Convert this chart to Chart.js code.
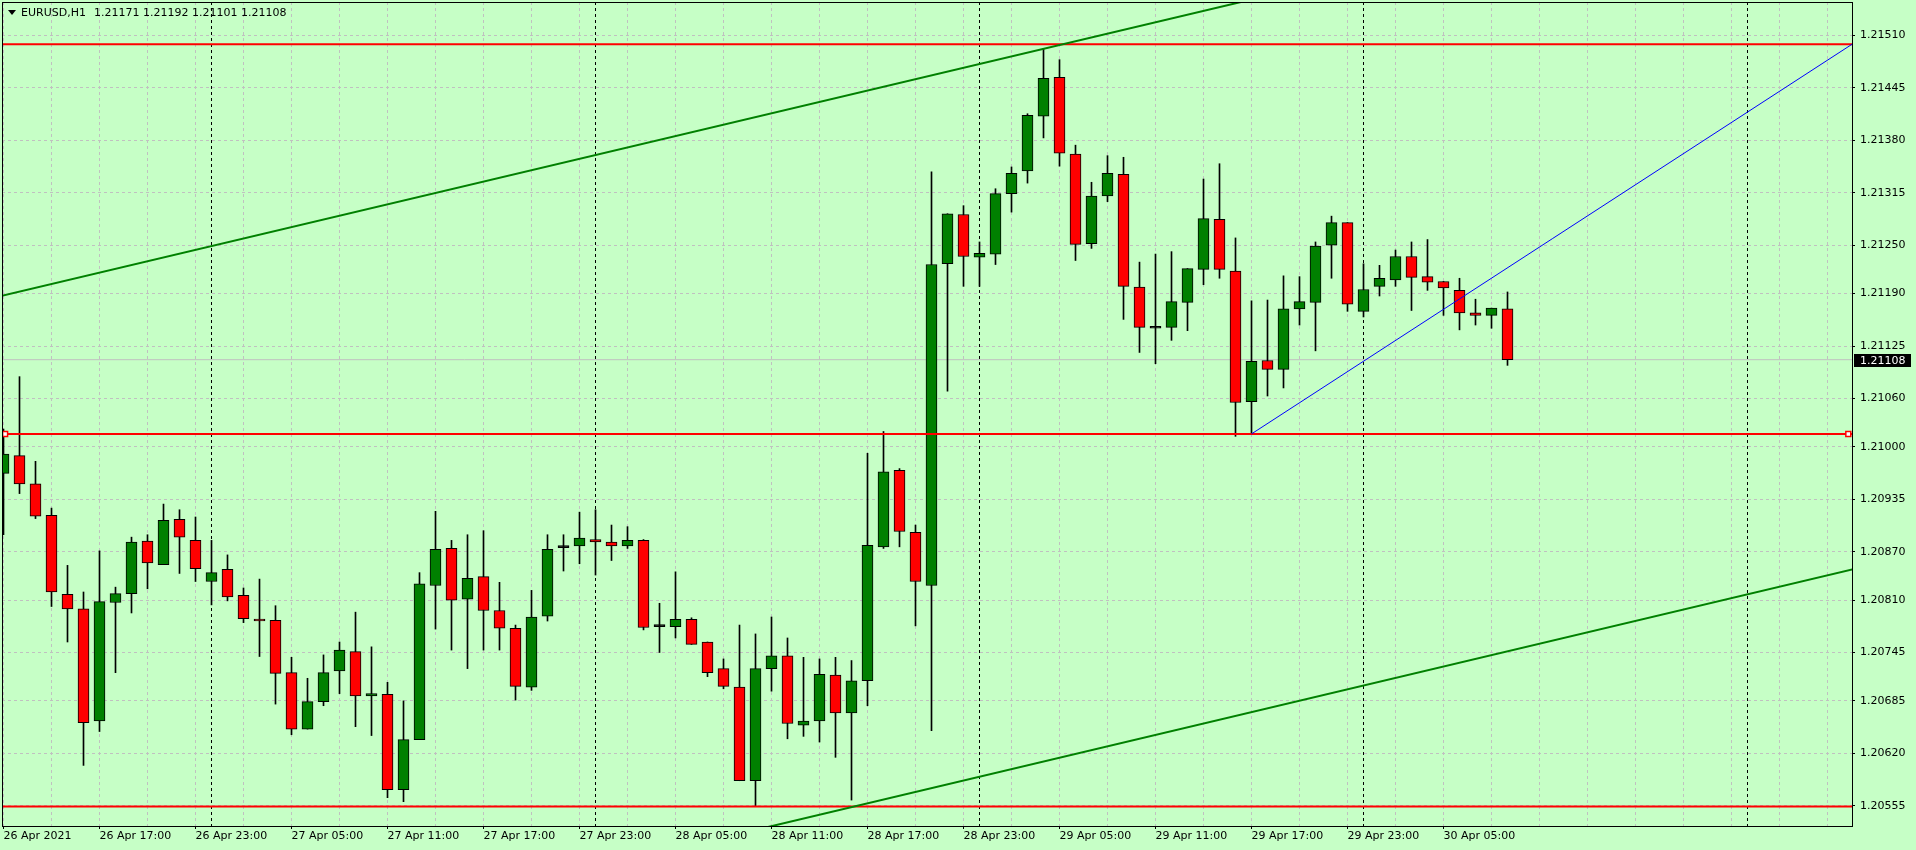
<!DOCTYPE html>
<html>
<head>
<meta charset="utf-8">
<script src="https://cdn.jsdelivr.net/npm/chart.js@4.4.1/dist/chart.umd.min.js"></script>
<style>
    html, body { margin: 0; padding: 0; background: #c6ffc6; }
    #wrap { width: 1916px; height: 850px; position: relative; }
</style>
</head>
<body>
<div id="wrap"><canvas id="grafico"></canvas></div>
<script>
// EURUSD H1, de 26 Apr 11:00 ate 30 Apr 09:00 (um candle por hora)
const simbolo = "EURUSD,H1";

const aberturas = [
    1.20967, 1.20989, 1.20954, 1.20915, 1.20817, 1.20799, 1.20660, 1.20807, 1.20818, 1.20883,
    1.20854, 1.20910, 1.20884, 1.20833, 1.20848, 1.20816, 1.20785, 1.20785, 1.20720, 1.20650,
    1.20684, 1.20722, 1.20746, 1.20691, 1.20693, 1.20575, 1.20637, 1.20828, 1.20874, 1.20811,
    1.20839, 1.20797, 1.20775, 1.20702, 1.20790, 1.20875, 1.20877, 1.20885, 1.20882, 1.20877,
    1.20884, 1.20777, 1.20777, 1.20786, 1.20758, 1.20725, 1.20702, 1.20586, 1.20725, 1.20741,
    1.20655, 1.20660, 1.20717, 1.20670, 1.20710, 1.20876, 1.20971, 1.20894, 1.20828, 1.21227,
    1.21288, 1.21235, 1.21239, 1.21314, 1.21342, 1.21410, 1.21458, 1.21363, 1.21252, 1.21311,
    1.21338, 1.21198, 1.21147, 1.21148, 1.21179, 1.21220, 1.21282, 1.21218, 1.21056, 1.21107,
    1.21096, 1.21171, 1.21179, 1.21250, 1.21278, 1.21168, 1.21199, 1.21207, 1.21236, 1.21211,
    1.21205, 1.21194, 1.21166, 1.21163, 1.21171
];
const maximas = [
    1.21022, 1.21087, 1.20982, 1.20924, 1.20853, 1.20820, 1.20871, 1.20826, 1.20888, 1.20891,
    1.20929, 1.20922, 1.20913, 1.20884, 1.20866, 1.20825, 1.20836, 1.20803, 1.20739, 1.20713,
    1.20742, 1.20758, 1.20795, 1.20752, 1.20708, 1.20685, 1.20844, 1.20920, 1.20884, 1.20891,
    1.20896, 1.20832, 1.20779, 1.20822, 1.20891, 1.20891, 1.20919, 1.20922, 1.20903, 1.20901,
    1.20885, 1.20806, 1.20845, 1.20788, 1.20758, 1.20737, 1.20779, 1.20768, 1.20789, 1.20763,
    1.20739, 1.20737, 1.20739, 1.20735, 1.20992, 1.21019, 1.20973, 1.20903, 1.21341, 1.21289,
    1.21299, 1.21254, 1.21320, 1.21347, 1.21413, 1.21494, 1.21480, 1.21374, 1.21328, 1.21361,
    1.21359, 1.21229, 1.21239, 1.21242, 1.21221, 1.21332, 1.21351, 1.21259, 1.21181, 1.21182,
    1.21212, 1.21211, 1.21254, 1.21286, 1.21278, 1.21227, 1.21225, 1.21244, 1.21254, 1.21257,
    1.21205, 1.21209, 1.21183, 1.21172, 1.21192
];
const minimas = [
    1.20891, 1.20942, 1.20911, 1.20802, 1.20758, 1.20605, 1.20647, 1.20720, 1.20794, 1.20824,
    1.20854, 1.20843, 1.20833, 1.20804, 1.20809, 1.20782, 1.20740, 1.20681, 1.20643, 1.20650,
    1.20679, 1.20694, 1.20653, 1.20642, 1.20565, 1.20560, 1.20637, 1.20774, 1.20748, 1.20725,
    1.20748, 1.20748, 1.20686, 1.20698, 1.20784, 1.20846, 1.20855, 1.20841, 1.20859, 1.20874,
    1.20773, 1.20745, 1.20763, 1.20755, 1.20715, 1.20700, 1.20586, 1.20555, 1.20697, 1.20638,
    1.20641, 1.20634, 1.20615, 1.20562, 1.20679, 1.20874, 1.20876, 1.20778, 1.20648, 1.21069,
    1.21199, 1.21199, 1.21226, 1.21291, 1.21327, 1.21383, 1.21348, 1.21231, 1.21246, 1.21304,
    1.21158, 1.21117, 1.21103, 1.21132, 1.21144, 1.21201, 1.21209, 1.21013, 1.21016, 1.21063,
    1.21073, 1.21151, 1.21119, 1.21209, 1.21168, 1.21161, 1.21187, 1.21199, 1.21169, 1.21194,
    1.21163, 1.21145, 1.21151, 1.21147, 1.21101
];
const fechamentos = [
    1.20991, 1.20954, 1.20914, 1.20820, 1.20799, 1.20658, 1.20808, 1.20818, 1.20882, 1.20856,
    1.20909, 1.20888, 1.20849, 1.20844, 1.20814, 1.20787, 1.20784, 1.20719, 1.20650, 1.20684,
    1.20720, 1.20748, 1.20691, 1.20694, 1.20575, 1.20637, 1.20830, 1.20873, 1.20810, 1.20837,
    1.20797, 1.20775, 1.20703, 1.20789, 1.20873, 1.20875, 1.20887, 1.20882, 1.20877, 1.20884,
    1.20776, 1.20777, 1.20786, 1.20755, 1.20720, 1.20703, 1.20586, 1.20725, 1.20741, 1.20657,
    1.20660, 1.20718, 1.20670, 1.20710, 1.20878, 1.20969, 1.20895, 1.20833, 1.21226, 1.21289,
    1.21236, 1.21240, 1.21314, 1.21339, 1.21411, 1.21457, 1.21364, 1.21251, 1.21311, 1.21339,
    1.21199, 1.21148, 1.21147, 1.21180, 1.21221, 1.21283, 1.21220, 1.21055, 1.21106, 1.21096,
    1.21171, 1.21180, 1.21249, 1.21278, 1.21177, 1.21195, 1.21209, 1.21236, 1.21210, 1.21204,
    1.21197, 1.21166, 1.21163, 1.21172, 1.21108
];

// eixo do tempo: um rotulo a cada 6 barras
const rotulosTempo = [
    "26 Apr 2021", "26 Apr 17:00", "26 Apr 23:00", "27 Apr 05:00", "27 Apr 11:00", "27 Apr 17:00",
    "27 Apr 23:00", "28 Apr 05:00", "28 Apr 11:00", "28 Apr 17:00", "28 Apr 23:00", "29 Apr 05:00",
    "29 Apr 11:00", "29 Apr 17:00", "29 Apr 23:00", "30 Apr 05:00"
];
const posicoesTempo = [0, 6, 12, 18, 24, 30, 36, 42, 48, 54, 60, 66, 72, 78, 84, 90];

// eixo de precos (MT4 arredonda os passos)
const ticksPreco = [
    1.21510, 1.21445, 1.21380, 1.21315, 1.21250, 1.21190, 1.21125, 1.21060,
    1.21000, 1.20935, 1.20870, 1.20810, 1.20745, 1.20685, 1.20620, 1.20555
];

// separadores de dia (00:00)
const separadoresDia = [13, 37, 61, 85, 109];

// objetos desenhados no grafico
const linhasHorizontais = [1.21499, 1.21016, 1.20554];
const canalSuperior = [{ x: -1, y: 1.21183 }, { x: 80, y: 1.21564 }];
const canalInferior = [{ x: 40, y: 1.20492 }, { x: 116, y: 1.20850 }];
const linhaAzul = [{ x: 78, y: 1.21016 }, { x: 115.6, y: 1.21500 }];

const X_MIN = -0.09375;
const X_MAX = 115.53125;
const Y_MIN = 1.2052986;
const Y_MAX = 1.2155152;

const corFundo = "#c6ffc6";
const corGrade = "#c0c0c0";
const corAlta = "#008000";
const corBaixa = "#ff0000";
const fonte = "'DejaVu Sans', Tahoma, sans-serif";

const ultimo = aberturas.length - 1;

const corpos = aberturas.map((o, i) => ({ x: i, y: [o, fechamentos[i]] }));
const pavios = maximas.map((h, i) => ({ x: i, y: [minimas[i], h] }));
const coresCorpo = aberturas.map((o, i) => {
    if (fechamentos[i] > o) return corAlta;
    if (fechamentos[i] < o) return corBaixa;
    return "#000000";
});

const linhaH = (preco, cor, largura, extra) => Object.assign({
    type: "line",
    data: [{ x: X_MIN, y: preco }, { x: X_MAX, y: preco }],
    borderColor: cor,
    borderWidth: largura,
    pointRadius: 0,
    order: 1,
}, extra || {});

const pluginFundo = {
    id: "fundo",
    beforeDraw(chart) {
        const { ctx, width, height } = chart;
        ctx.save();
        ctx.fillStyle = corFundo;
        ctx.fillRect(0, 0, width, height);
        ctx.restore();
    },
    beforeDatasetsDraw(chart) {
        const { ctx, chartArea, scales } = chart;
        ctx.save();
        ctx.strokeStyle = "#000";
        ctx.lineWidth = 1;
        ctx.setLineDash([3, 3]);
        separadoresDia.forEach(idx => {
            const px = Math.floor(scales.x.getPixelForValue(idx)) + 0.5;
            ctx.beginPath();
            ctx.moveTo(px, chartArea.top);
            ctx.lineTo(px, chartArea.bottom);
            ctx.stroke();
        });
        ctx.restore();
    },
    afterDraw(chart) {
        const { ctx, chartArea, scales } = chart;
        ctx.save();
        // moldura
        ctx.strokeStyle = "#000";
        ctx.lineWidth = 1;
        ctx.strokeRect(chartArea.left + 0.5, chartArea.top + 0.5,
            chartArea.right - chartArea.left, chartArea.bottom - chartArea.top);

        // cabecalho
        ctx.fillStyle = "#000";
        ctx.beginPath();
        ctx.moveTo(8, 10);
        ctx.lineTo(16, 10);
        ctx.lineTo(12, 15);
        ctx.closePath();
        ctx.fill();
        ctx.font = "11px " + fonte;
        ctx.textBaseline = "middle";
        ctx.textAlign = "left";
        ctx.fillText(simbolo, 21, 13);
        const ohlc = [aberturas[ultimo], maximas[ultimo], minimas[ultimo], fechamentos[ultimo]]
            .map(v => v.toFixed(5)).join(" ");
        ctx.fillText(ohlc, 94, 13);

        // etiqueta do preco atual
        const yp = Math.round(scales.y.getPixelForValue(fechamentos[ultimo]));
        ctx.fillStyle = "#000";
        ctx.fillRect(chartArea.right + 2, yp - 6, 57, 13);
        ctx.fillStyle = "#fff";
        ctx.fillText(fechamentos[ultimo].toFixed(5), 1860, yp + 1);
        ctx.restore();
    }
};

const ctx = document.getElementById("grafico").getContext("2d");

new Chart(ctx, {
    type: "bar",
    data: {
        datasets: [
            linhaH(fechamentos[ultimo], corGrade, 1, { order: 9 }),
            {
                label: "pavios",
                data: pavios,
                backgroundColor: "#000",
                barThickness: 1,
                grouped: false,
                order: 8,
            },
            {
                label: "corpos",
                data: corpos,
                backgroundColor: coresCorpo,
                borderColor: "#000",
                borderWidth: 1,
                borderSkipped: false,
                barThickness: 11,
                minBarLength: 2,
                grouped: false,
                order: 7,
            },
            linhaH(linhasHorizontais[0], corBaixa, 2),
            linhaH(linhasHorizontais[2], corBaixa, 2),
            {
                type: "line",
                data: [
                    { x: X_MIN, y: linhasHorizontais[1] },
                    { x: 0.1, y: linhasHorizontais[1] },
                    { x: 115.3, y: linhasHorizontais[1] },
                    { x: X_MAX, y: linhasHorizontais[1] },
                ],
                borderColor: corBaixa,
                borderWidth: 2,
                pointRadius: [0, 3.5, 3.5, 0],
                pointStyle: "rect",
                pointBackgroundColor: "#ffffff",
                pointBorderColor: corBaixa,
                pointBorderWidth: 1.5,
                order: 1,
            },
            {
                type: "line",
                data: canalSuperior,
                borderColor: corAlta,
                borderWidth: 2,
                pointRadius: 0,
                order: 0,
            },
            {
                type: "line",
                data: canalInferior,
                borderColor: corAlta,
                borderWidth: 2,
                pointRadius: 0,
                order: 0,
            },
            {
                type: "line",
                data: linhaAzul,
                borderColor: "#0000ff",
                borderWidth: 1,
                pointRadius: 0,
                order: 0,
            },
        ],
    },
    options: {
        responsive: true,
        maintainAspectRatio: false,
        animation: false,
        events: [],
        layout: { padding: { left: 2, top: 2, right: 0, bottom: 0 } },
        plugins: {
            legend: { display: false },
            tooltip: { enabled: false },
        },
        scales: {
            x: {
                type: "linear",
                min: X_MIN,
                max: X_MAX,
                bounds: "data",
                offset: false,
                afterBuildTicks: scale => {
                    const t = [];
                    for (let v = 0; v <= 114; v += 3) t.push({ value: v });
                    scale.ticks = t;
                },
                afterFit: scale => {
                    scale.height = 24;
                    scale.paddingLeft = 0;
                    scale.paddingRight = 0;
                },
                grid: {
                    offset: false,
                    color: corGrade,
                    lineWidth: 1,
                    tickLength: 3,
                    tickColor: c => posicoesTempo.includes(c.tick && c.tick.value) ? "#000" : "rgba(0,0,0,0)",
                },
                border: { display: true, color: "#000", dash: [3, 3] },
                ticks: {
                    autoSkip: false,
                    maxRotation: 0,
                    minRotation: 0,
                    align: "start",
                    padding: 1,
                    color: "#000",
                    font: { family: fonte, size: 11 },
                    callback: v => {
                        const k = posicoesTempo.indexOf(v);
                        return k >= 0 ? rotulosTempo[k] : "";
                    },
                },
            },
            y: {
                type: "linear",
                position: "right",
                min: Y_MIN,
                max: Y_MAX,
                bounds: "data",
                beginAtZero: false,
                afterBuildTicks: scale => {
                    scale.ticks = ticksPreco.map(v => ({ value: v }));
                },
                afterFit: scale => {
                    scale.width = 64;
                    scale.paddingTop = 0;
                    scale.paddingBottom = 0;
                },
                grid: {
                    color: corGrade,
                    lineWidth: 1,
                    tickLength: 3,
                    tickColor: "#000",
                },
                border: { display: true, color: "#000", dash: [3, 3] },
                ticks: {
                    padding: 5,
                    color: "#000",
                    font: { family: fonte, size: 11 },
                    callback: v => Number(v).toFixed(5),
                },
            },
        },
    },
    plugins: [pluginFundo],
});
</script>
</body>
</html>
